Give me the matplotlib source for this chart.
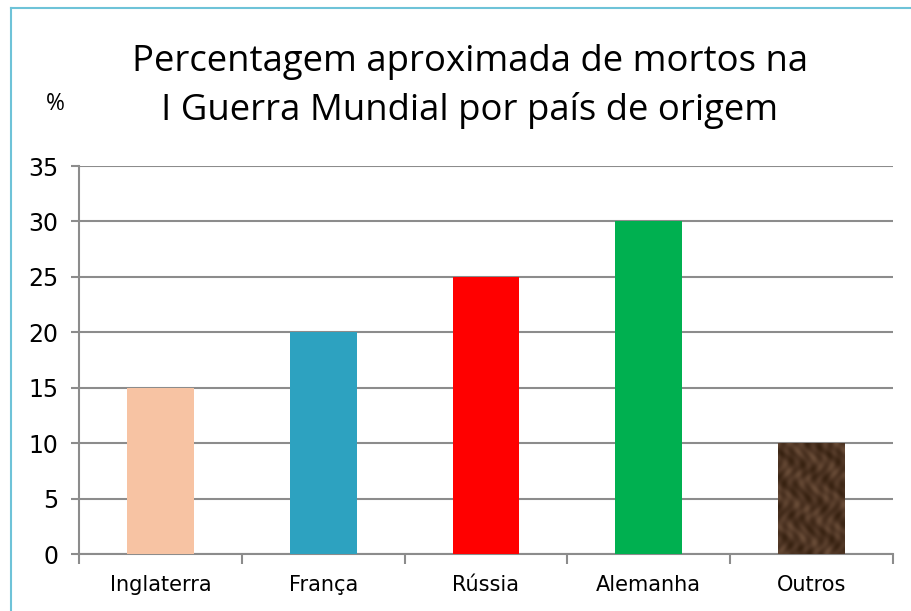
'''
Percentagem aproximada de mortos na I Guerra Mundial - bar chart
'''

import matplotlib
matplotlib.use('Agg')
import matplotlib.pyplot as plt
import numpy as np

paises = ['Inglaterra', 'França', 'Rússia', 'Alemanha', 'Outros']
mortos = [15, 20, 25, 30, 10]
cores = ['#F7C3A3', '#2DA2C0', '#FF0000', '#00B050', '#4D3423']
y_ticks = [0, 5, 10, 15, 20, 25, 30, 35]

grid_cor = '#8C8C8C'
tick_font = 'DejaVu Sans'


def plotting():
    fig = plt.figure(figsize=(9.11, 6.11), dpi=100)
    fig.patch.set_facecolor('white')

    # teal frame around the chart (left and top edges visible)
    fig.add_artist(plt.Line2D([11 / 911, 11 / 911], [0, 1 - 8 / 611],
                              color='#6EC3D8', lw=1.5))
    fig.add_artist(plt.Line2D([11 / 911, 1], [1 - 8 / 611, 1 - 8 / 611],
                              color='#6EC3D8', lw=1.5))

    ax = fig.add_axes([79 / 911, 1 - 554 / 611, (893 - 79) / 911, (554 - 166) / 611])
    x = np.arange(len(paises))
    bars = ax.bar(x, mortos, width=0.41, color=cores, zorder=3)

    # mottled look on the "Outros" bar
    b = bars[-1]
    yy, xx = np.mgrid[0:60, 0:40]
    tex = (np.sin(xx * 0.9 + np.cos(yy * 0.3) * 2) * np.cos(yy * 0.55 + np.sin(xx * 0.2))
           + 0.6 * np.sin(xx * 0.23 - yy * 0.41)) * 0.5
    img = ax.imshow(tex, cmap=matplotlib.colors.LinearSegmentedColormap.from_list(
        'br', ['#35200F', '#4D3423', '#6B4E39']),
        extent=[b.get_x(), b.get_x() + b.get_width(), 0, b.get_height()],
        aspect='auto', zorder=4, interpolation='bicubic')
    img.set_clip_path(b)

    ax.set_xlim(-0.5, len(paises) - 0.5)
    ax.set_ylim(0, 35)
    ax.set_yticks(y_ticks)
    ax.yaxis.grid(True, color=grid_cor, lw=1.5, zorder=0)
    ax.set_axisbelow(True)

    ax.set_xticks(x)
    ax.set_xticklabels(paises, fontsize=15, family=tick_font)
    ax.set_xticks(np.arange(-0.5, len(paises)), minor=True)
    ax.tick_params(axis='x', which='major', length=0, pad=15)
    ax.tick_params(axis='x', which='minor', length=7, width=1.5, color=grid_cor)
    ax.tick_params(axis='y', length=6, width=1.5, color=grid_cor, pad=9,
                   labelsize=17)
    for lab in ax.get_yticklabels():
        lab.set_family(tick_font)

    for side in ['top', 'right']:
        ax.spines[side].set_visible(False)
    for side in ['left', 'bottom']:
        ax.spines[side].set_color(grid_cor)
        ax.spines[side].set_linewidth(1.5)

    fig.text(470 / 911, 1 - 62 / 611, 'Percentagem aproximada de mortos na',
             ha='center', va='center', fontsize=26.3, family='Open Sans')
    fig.text(470 / 911, 1 - 110 / 611, 'I Guerra Mundial por país de origem',
             ha='center', va='center', fontsize=26.3, family='Open Sans')
    fig.text(55 / 911, 1 - 104 / 611, '%', ha='center', va='center',
             fontsize=16.5, family='Open Sans')

    fig.savefig('out.png', dpi=100)


plotting()
